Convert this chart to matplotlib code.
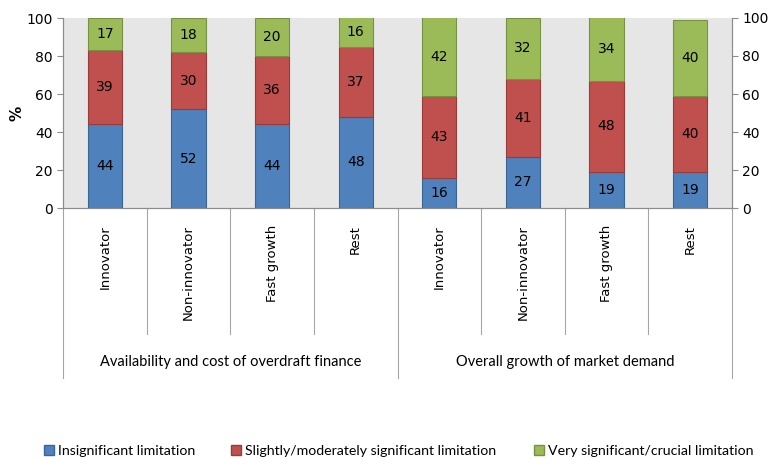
import matplotlib
matplotlib.use("Agg")
from matplotlib import pyplot as plt
from matplotlib.patches import Patch
import numpy as np

categories = ["Innovator", "Non-innovator", "Fast growth", "Rest",
              "Innovator", "Non-innovator", "Fast growth", "Rest"]
groups = ["Availability and cost of overdraft finance", "Overall growth of market demand"]
insignificant = [44, 52, 44, 48, 16, 27, 19, 19]
moderate = [39, 30, 36, 37, 43, 41, 48, 40]
crucial = [17, 18, 20, 16, 42, 32, 34, 40]
series_names = ["Insignificant limitation", "Slightly/moderately significant limitation",
                "Very significant/crucial limitation"]

colors = ["#4F81BD", "#C0504D", "#9BBB59"]
edges = ["#3A6595", "#963C3A", "#789244"]
axis_grey = "#8C8C8C"

fig = plt.figure(figsize=(7.69, 4.59), dpi=100)
ax = fig.add_axes([63 / 769, 1 - 208 / 459, (732 - 63) / 769, 190 / 459])
ax.set_facecolor("#E6E6E6")

x = np.arange(len(categories))
bottom = np.zeros(len(categories))
for vals, c, e in zip([insignificant, moderate, crucial], colors, edges):
    vals = np.array(vals, dtype=float)
    ax.bar(x, vals, width=0.41, bottom=bottom, color=c, edgecolor=e, linewidth=0.8, zorder=2)
    for xi, b, v in zip(x, bottom, vals):
        top = min(b + v, 100)
        ax.text(xi, (b + top) / 2, str(int(v)), ha="center", va="center", fontsize=10,
                color="black", zorder=3)
    bottom += vals

ax.set_xlim(-0.5, len(categories) - 0.5)
ax.set_ylim(0, 100)
ax.set_yticks(range(0, 101, 20))
ax.set_xticks([])
ax.spines["top"].set_visible(False)
for s in ["left", "right", "bottom"]:
    ax.spines[s].set_color(axis_grey)
ax.tick_params(axis="y", colors=axis_grey, labelcolor="black", labelsize=10, length=4)
ax.set_ylabel("%", fontsize=11, fontweight="bold", labelpad=1)

ax2 = ax.twinx()
ax2.set_ylim(0, 100)
ax2.set_yticks(range(0, 101, 20))
ax2.spines["top"].set_visible(False)
for s in ["left", "right", "bottom"]:
    ax2.spines[s].set_color(axis_grey)
ax2.tick_params(axis="y", colors=axis_grey, labelcolor="black", labelsize=10, length=4)

# category labels and separators below the axis
trans = ax.get_xaxis_transform()
for xi, name in zip(x, categories):
    ax.text(xi, -0.09, name, rotation=90, ha="center", va="top", fontsize=9.5,
            transform=trans, family="DejaVu Sans")
for b in np.arange(-0.5, len(categories), 1.0):
    depth = -0.895 if b in (-0.5, 3.5, 7.5) else -0.663
    ax.plot([b, b], [0, depth], color="#A6A6A6", linewidth=0.8, transform=trans, clip_on=False)
for gi, g in enumerate(groups):
    ax.text(1.5 + gi * 4, -0.81, g, ha="center", va="center", fontsize=10.5,
            transform=trans, family="Lato")

# legend entries placed like the original (uneven spacing)
legend_x = [44 / 769, 231 / 769, 534 / 769]
for name, c, e, lx in zip(series_names, colors, edges, legend_x):
    fig.legend([Patch(facecolor=c, edgecolor=e)], [name], loc="center left",
               bbox_to_anchor=(lx, 1 - 451 / 459), frameon=False,
               prop={"family": "Lato", "size": 10.2}, handlelength=0.7,
               handleheight=0.7, handletextpad=0.3, borderaxespad=0, borderpad=0)

fig.savefig("out.png", dpi=100)
